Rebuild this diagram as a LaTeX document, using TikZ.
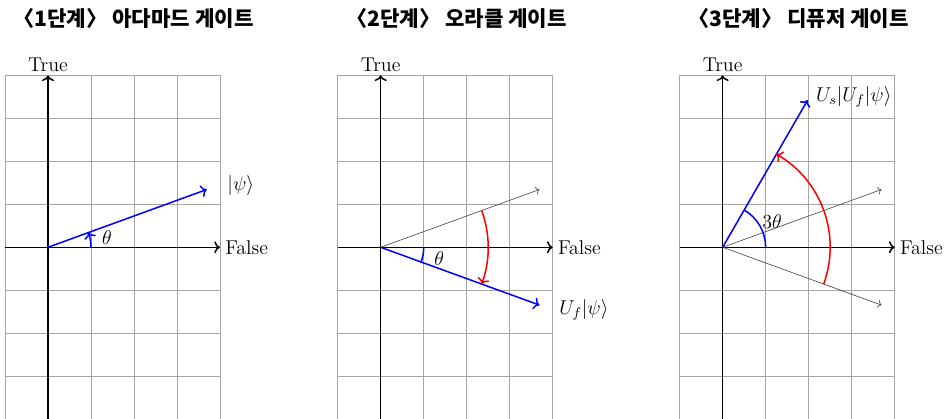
\RequirePackage{fix-cm}
\documentclass[tikz,border=0pt]{standalone}
\usepackage{amsmath}
\usepackage{fontspec}
\usetikzlibrary{arrows.meta}
\newfontfamily\krfont{Noto Sans CJK KR}

\begin{document}
\begin{tikzpicture}[
    lbl/.style={font=\fontsize{13.2}{16}\selectfont},
    ttl/.style={font=\krfont\bfseries\fontsize{14}{16}\selectfont, anchor=west, inner sep=0pt},
    gridline/.style={gray!70, line width=0.5pt},
    axis/.style={line width=1pt, ->},
    vec/.style={line width=1pt, blue, ->},
    ghost/.style={black!75, ->},
    turn/.style={line width=1pt, red, ->}
]
\useasboundingbox (-1.116,-3.993) rectangle (20.977,5.751);

% Grids, axes and axis labels
\foreach \i/\dx in {1/0, 2/7.737, 3/15.69} {
    \begin{scope}[xshift=\dx cm]
    \draw[gridline] (-1,-4) grid (4,4);
    \coordinate (o\i) at (0,0);
    \coordinate (xl\i) at (-1,0);
    \coordinate (xr\i) at (4,0);
    \coordinate (yb\i) at (0,-4);
    \coordinate (yt\i) at (0,4);
    \draw[axis] (xl\i) -- (xr\i);
    \draw[axis] (yb\i) -- (yt\i);
    \node[lbl, right] (false\i) at (xr\i) {False};
    \node[lbl, above, inner sep=2pt] (true\i) at (yt\i) {True};
    \end{scope}
}

% Step 1: Hadamard
\node[ttl] (title1) at (-0.81,5.33) {〈1단계〉 아다마드 게이트};
\coordinate (psi1) at (20:3.93);
\draw[vec] (o1) -- (psi1);
\draw[vec] (1,0) arc (0:20:1);
\node[lbl] (theta1) at (1.37,0.22) {$\theta$};
\node[lbl, right] (lpsi1) at (4.05,1.43) {$|\psi\rangle$};

% Step 2: oracle
\begin{scope}[xshift=7.737cm]
\node[ttl] (title2) at (-0.81,5.33) {〈2단계〉 오라클 게이트};
\coordinate (old2) at (20:3.93);
\coordinate (psi2) at (-20:3.93);
\draw[ghost] (o2) -- (old2);
\draw[vec] (o2) -- (psi2);
\draw[line width=1pt, blue] (1,0) arc (0:-20:1);
\draw[turn] (20:2.5) arc (20:-20:2.5);
\node[lbl] (theta2) at (1.36,-0.26) {$\theta$};
\node[lbl, right] (lpsi2) at (4.03,-1.46) {$U_f|\psi\rangle$};
\end{scope}

% Step 3: diffuser
\begin{scope}[xshift=15.69cm]
\node[ttl] (title3) at (-0.81,5.33) {〈3단계〉 디퓨저 게이트};
\coordinate (up3) at (20:3.93);
\coordinate (down3) at (-20:3.93);
\coordinate (psi3) at (60:3.95);
\draw[ghost] (o3) -- (up3);
\draw[ghost] (o3) -- (down3);
\draw[vec] (o3) -- (psi3);
\draw[line width=1pt, blue] (1,0) arc (0:60:1);
\draw[turn] (-20:2.5) arc (-20:60:2.5);
\node[lbl] (theta3) at (1.15,0.6) {$3\theta$};
\node[lbl, right] (lpsi3) at (2.05,3.5) {$U_s|U_f|\psi\rangle$};
\end{scope}
\end{tikzpicture}
\end{document}
